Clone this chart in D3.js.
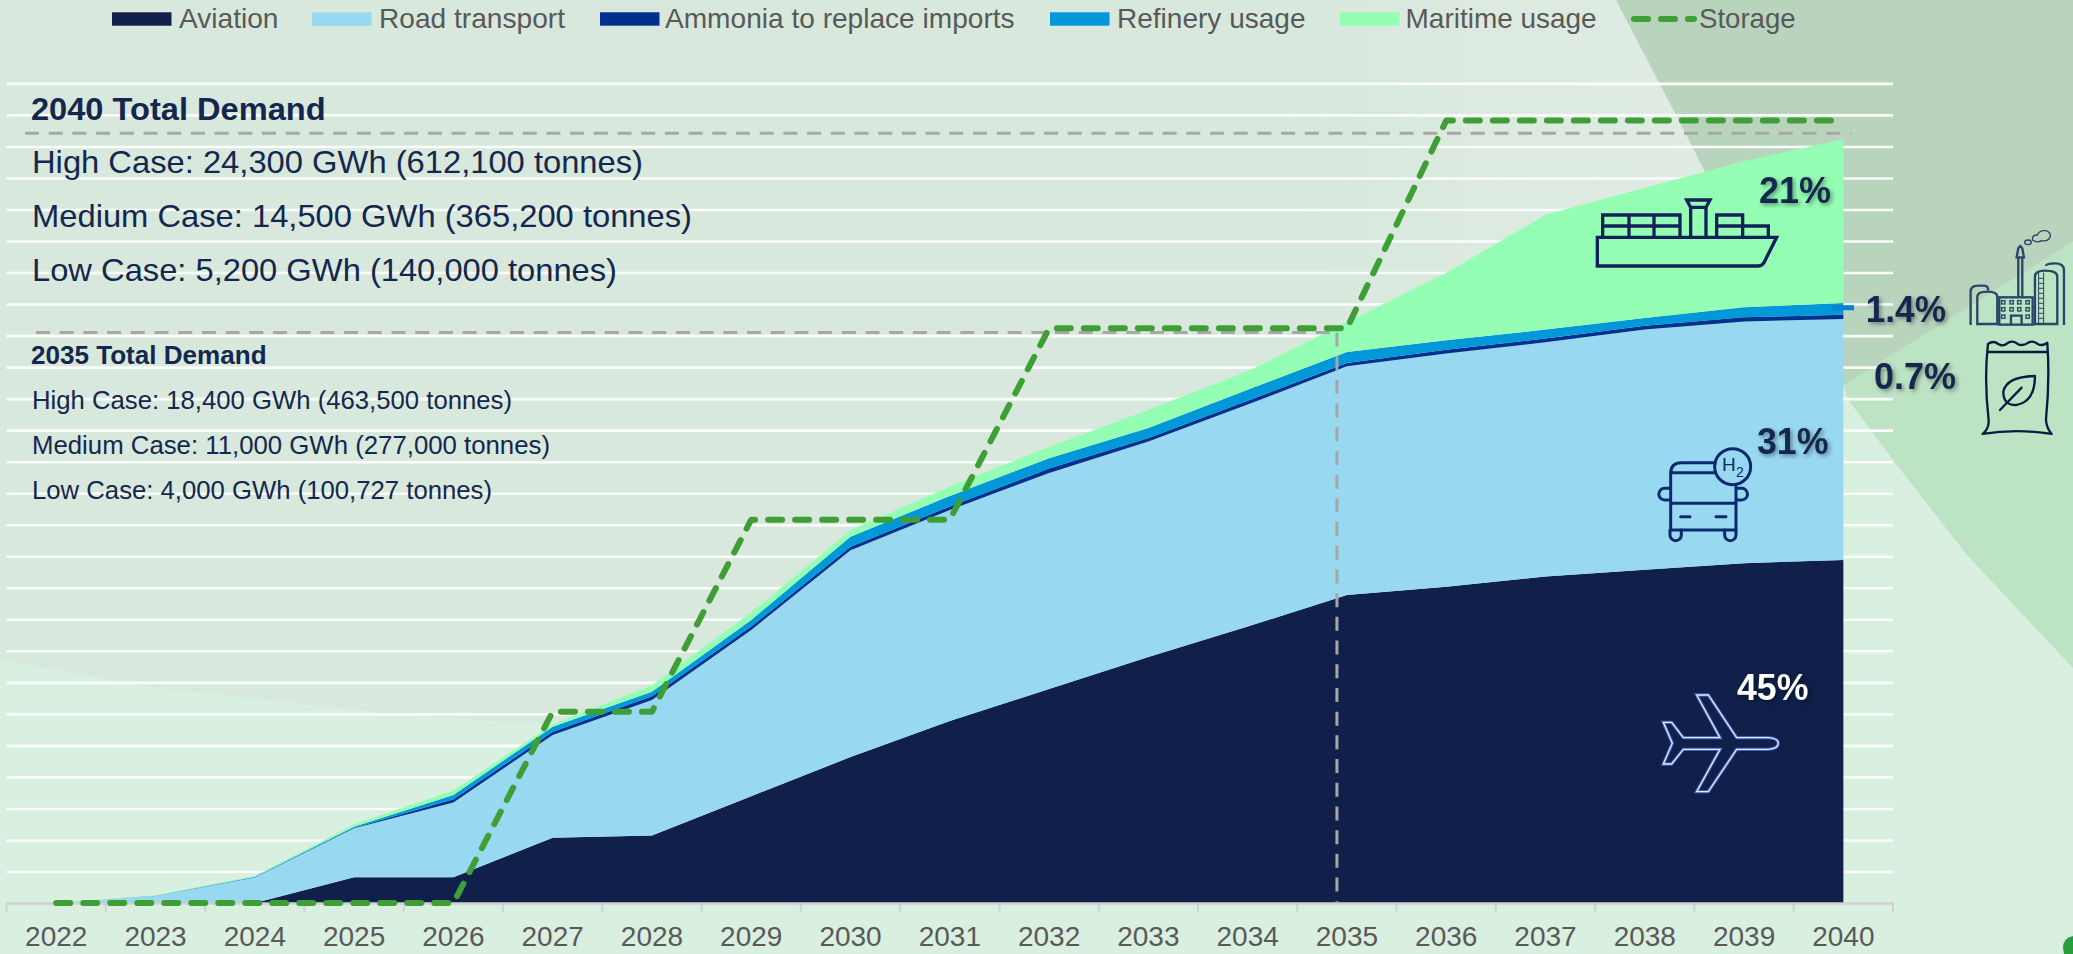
<!DOCTYPE html>
<html>
<head>
<meta charset="utf-8">
<script src="https://cdn.jsdelivr.net/npm/d3@7"></script>
<style>
html,body{margin:0;padding:0;background:#d9efdf;overflow:hidden}
svg{display:block}
text{font-family:"Liberation Sans",Arial,sans-serif}
</style>
</head>
<body>
<svg id="chart" width="2073" height="954"></svg>
<script>
const years = [2022,2023,2024,2025,2026,2027,2028,2029,2030,2031,2032,2033,2034,2035,2036,2037,2038,2039,2040];
// Thousand GWh per year
const aviation = [0,0,0,0.82,0.82,2.07,2.14,3.39,4.63,5.77,6.79,7.80,8.77,9.77,10.03,10.36,10.57,10.78,10.88];
const roadTransport = [0,0.22,0.81,1.55,2.37,3.26,4.30,5.27,6.56,6.70,6.85,6.84,7.04,7.26,7.40,7.43,7.62,7.67,7.65];
const ammonia = [0,0.005,0.01,0.02,0.10,0.10,0.12,0.11,0.11,0.11,0.14,0.11,0.12,0.10,0.12,0.12,0.12,0.13,0.13];
const refinery = [0,0.005,0.01,0.03,0.14,0.16,0.14,0.21,0.32,0.33,0.33,0.32,0.35,0.35,0.30,0.28,0.25,0.32,0.37];
const maritime = [0,0.01,0.03,0.08,0.14,0.08,0.21,0.24,0.21,0.30,0.36,0.58,0.59,0.95,2.14,3.64,4.13,4.63,5.20];
const storage = [0,0,0,0,0,6.07,6.07,12.16,12.16,12.16,18.23,18.23,18.23,18.23,24.82,24.82,24.82,24.82,24.82];
const gridValues = d3.range(1,27);
const refLevel2040 = 24.42, refLevel2035 = 18.10;

const seriesNames = ["Aviation","Road transport","Ammonia to replace imports","Refinery usage","Maritime usage"];
const seriesColors = ["#10204b","#98d8f0","#00308e","#0098d8","#94ffb4"];
const seriesValues = [aviation,roadTransport,ammonia,refinery,maritime];
const storageColor = "#3f9e36";
const navy = "#14274e", grey = "#595959";

const svg = d3.select("#chart");
const x = d3.scaleBand().domain(years).range([6.6,1893]);
const cx = d => x(d)+x.bandwidth()/2;
const y = d3.scaleLinear().domain([0,26]).range([903,83.4]);

/* ---------- background ---------- */
const defs = svg.append("defs");
const grad = defs.append("linearGradient").attr("id","bgGrad").attr("x1",0).attr("x2",1).attr("y1",0).attr("y2",0);
grad.append("stop").attr("offset","0.62").attr("stop-color","#d8e8dc");
grad.append("stop").attr("offset","0.82").attr("stop-color","#dfebe3");
const bg = svg.append("g");
bg.append("rect").attr("width",2073).attr("height",954).attr("fill","url(#bgGrad)");
const poly = (pts,fill) => bg.append("path").attr("d",d3.line()(pts)+"Z").attr("fill",fill);
poly([[0,660],[153,687],[383,713],[520,723],[900,730],[1847,398],[1893,460],[1967,555],[2073,668],[2073,954],[0,954]],"#d9efdf");
poly([[1616,0],[2073,0],[2073,242],[1844,385],[1600,300],[1705,172],[1689,140]],"#b9d4bd");
poly([[1844,385],[2073,242],[2073,668],[1967,555],[1893,460],[1847,398]],"#bce3c4");
bg.append("path").attr("d","M2073,936 Q2063,938 2063,948 L2064,954 H2073 Z").attr("fill","#2a9d3a");

/* ---------- grid ---------- */
const gridAxis = d3.axisLeft(y).tickValues(gridValues).tickSize(-(1893-6.6)).tickFormat("");
const gridG = svg.append("g").attr("transform","translate(6.6,0)").call(gridAxis);
gridG.select(".domain").remove();
gridG.selectAll("line").attr("stroke","#fbfdfb").attr("stroke-width",2.6);

/* ---------- stacked areas ---------- */
const table = years.map((yr,i)=>{
  const o={year:yr};
  seriesNames.forEach((n,k)=>o[n]=seriesValues[k][i]);
  return o;
});
const stacked = d3.stack().keys(seriesNames)(table);
const area = d3.area().x(d=>cx(d.data.year)).y0(d=>y(d[0])).y1(d=>y(d[1]));
svg.append("g").selectAll("path").data(stacked).join("path")
  .attr("d",area).attr("fill",(d,i)=>seriesColors[i]);

/* ---------- axis ---------- */
const axisG = svg.append("g").attr("transform","translate(0,903)");
const xAxis = d3.axisBottom(x).tickSize(0).tickPadding(23);
axisG.call(xAxis);
axisG.select(".domain").attr("stroke","#d2d0d2").attr("stroke-width",2.5);
axisG.selectAll("text").attr("font-size",28).attr("fill",grey)
  .style("font-family",'"Liberation Sans",Arial,sans-serif');
const edges = years.map(d=>x(d)).concat([x(2040)+x.bandwidth()]);
axisG.selectAll("line.edge").data(edges).join("line").attr("class","edge")
  .attr("x1",d=>d).attr("x2",d=>d).attr("y1",0).attr("y2",9)
  .attr("stroke","#d2d0d2").attr("stroke-width",2);

/* ---------- reference lines ---------- */
const refG = svg.append("g").attr("fill","none").attr("stroke","#a9a6a6").attr("stroke-width",3).attr("stroke-dasharray","14 9.7");
refG.append("line").attr("x1",25).attr("x2",1851).attr("y1",y(refLevel2040)).attr("y2",y(refLevel2040));
refG.append("line").attr("x1",36).attr("x2",cx(2035)-10).attr("y1",y(refLevel2035)).attr("y2",y(refLevel2035));
refG.append("line").attr("x1",cx(2035)-10).attr("x2",cx(2035)-10).attr("y1",y(refLevel2035)).attr("y2",903);

/* ---------- storage ---------- */
const storageLine = d3.line().x((d,i)=>cx(years[i])).y(d=>y(d));
svg.append("path").attr("d",storageLine(storage)).attr("fill","none")
  .attr("stroke",storageColor).attr("stroke-width",6).attr("stroke-linecap","round")
  .attr("stroke-linejoin","round").attr("stroke-dasharray","14 13");

/* ---------- legend ---------- */
const legendSwatchX = [112,312,600,1050,1340];
const legendTextX = [179,379,665,1117,1405.6];
const legendTextW = [99.5,186,349.6,188.5,191];
const legG = svg.append("g");
seriesNames.forEach((n,i)=>{
  legG.append("rect").attr("x",legendSwatchX[i]).attr("y",12.3).attr("width",59.5).attr("height",13.4).attr("fill",seriesColors[i]);
  legG.append("text").attr("x",legendTextX[i]).attr("y",28.3).attr("font-size",28).attr("fill",grey)
    .attr("textLength",legendTextW[i]).attr("lengthAdjust","spacingAndGlyphs").text(n);
});
legG.append("line").attr("x1",1634).attr("x2",1694).attr("y1",19).attr("y2",19)
  .attr("stroke",storageColor).attr("stroke-width",6).attr("stroke-linecap","round").attr("stroke-dasharray","14 13");
legG.append("text").attr("x",1699).attr("y",28.3).attr("font-size",28).attr("fill",grey)
  .attr("textLength",96.6).attr("lengthAdjust","spacingAndGlyphs").text("Storage");

/* ---------- notes ---------- */
const notes = [
 ["2040 Total Demand",31,120,32,"bold",294.6],
 ["High Case: 24,300 GWh (612,100 tonnes)",32,173,32,"normal",611],
 ["Medium Case: 14,500 GWh (365,200 tonnes)",32,226.7,32,"normal",660],
 ["Low Case: 5,200 GWh (140,000 tonnes)",32,281,32,"normal",585],
 ["2035 Total Demand",31,364,26.5,"bold",235.6],
 ["High Case: 18,400 GWh (463,500 tonnes)",32,409,26.5,"normal",480],
 ["Medium Case: 11,000 GWh (277,000 tonnes)",32,454,26.5,"normal",518],
 ["Low Case: 4,000 GWh (100,727 tonnes)",32,499,26.5,"normal",460]
];
svg.append("g").selectAll("text").data(notes).join("text")
  .attr("x",d=>d[1]).attr("y",d=>d[2]).attr("font-size",d=>d[3]).attr("font-weight",d=>d[4])
  .attr("textLength",d=>d[5]).attr("lengthAdjust","spacingAndGlyphs")
  .attr("fill",navy).text(d=>d[0]);

/* ---------- icons ---------- */
const ship = svg.append("g").attr("transform","translate(1580,120) scale(0.3333)")
  .attr("fill","none").attr("stroke","#14205a").attr("stroke-width",10);
ship.append("path").attr("d","M52,352 H590 L552,428 Q546,438 535,438 H52 Z");
ship.append("path").attr("d","M68,352 V285 H300 V352 M147,285 V352 M222,285 V352 M68,318 H300");
ship.append("path").attr("d","M332,352 V262 M378,352 V262 M320,240 H390 L378,262 H332 Z");
ship.append("path").attr("d","M410,352 V285 H488 V352 M410,318 H565 V352");

const bus = svg.append("g").attr("transform","translate(1620,420) scale(0.3333)")
  .attr("fill","none").attr("stroke","#0a2a6e").attr("stroke-width",9).attr("stroke-linecap","round");
bus.append("path").attr("d","M285,128 H185 Q152,128 152,160 V330 H348 V200 M152,158 H285 M152,250 H348 M182,290 H210 M288,290 H318");
bus.append("path").attr("d","M150,205 H134 A17,17 0 0 0 134,240 H150 M350,205 H365 A17,17 0 0 1 365,240 H350");
bus.append("path").attr("d","M150,330 V345 A17,17 0 0 0 184,345 V330 M314,330 V345 A17,17 0 0 0 348,345 V330");
bus.append("circle").attr("cx",338).attr("cy",140).attr("r",54);
svg.append("text").attr("x",1722).attr("y",470.5).attr("font-size",19).attr("fill","#0a2a6e").text("H");
svg.append("text").attr("x",1736).attr("y",477).attr("font-size",14).attr("fill","#0a2a6e").text("2");

const planeD = "M170,15 H205 L290,143 H385 Q415,145 415,160 Q415,176 385,178 H290 L205,305 H170 L240,178 H130 L95,222 H70 L97,160 L70,97 H95 L130,143 H240 Z";
const plane = svg.append("g").attr("transform","translate(1640,690) scale(0.3333)").attr("fill","none");
plane.append("path").attr("d",planeD).attr("stroke","#3d5fb4").attr("stroke-width",10);
plane.append("path").attr("d",planeD).attr("stroke","#dfe9ff").attr("stroke-width",4);

const fac = svg.append("g").attr("transform","translate(1580,120) scale(0.3333)")
  .attr("fill","none").attr("stroke","#2b4468").attr("stroke-width",7);
fac.append("path").attr("d","M1172,615 V515 Q1172,497 1195,497 H1212 Q1225,497 1225,512");
fac.append("path").attr("d","M1192,612 V530 Q1192,515 1222,515 Q1252,515 1252,530 V612 Z");
fac.append("rect").attr("x",1258).attr("y",532).attr("width",100).attr("height",82);
[1270,1295,1318,1343].forEach(wx=>[547,568,590].forEach(wy=>{
  if(!(wy===590 && (wx===1295||wx===1318)))
    fac.append("rect").attr("x",wx-5).attr("y",wy-5).attr("width",10).attr("height",10).attr("stroke-width",4);
}));
fac.append("path").attr("d","M1293,614 V587 H1325 V614");
fac.append("path").attr("d","M1315,530 V412 M1327,530 V412 M1310,412 H1332 L1327,385 L1321,378 L1315,385 Z");
fac.append("ellipse").attr("cx",1344).attr("cy",367).attr("rx",10).attr("ry",7).attr("stroke-width",4);
fac.append("path").attr("stroke-width",4).attr("d","M1358,360 Q1355,345 1372,345 Q1378,330 1398,332 Q1415,338 1410,352 Q1405,365 1385,362 Q1370,370 1358,360 Z");
fac.append("path").attr("d","M1365,612 V470 Q1365,452 1395,452 Q1432,452 1432,470 V612 Z");
fac.append("path").attr("stroke-width",3).attr("d","M1376,458 V612 M1391,458 V612 M1376,475 H1391 M1376,490 H1391 M1376,505 H1391 M1376,520 H1391 M1376,535 H1391 M1376,550 H1391 M1376,565 H1391 M1376,580 H1391 M1376,595 H1391");
fac.append("path").attr("d","M1398,438 Q1398,430 1425,430 Q1452,430 1452,450 V615");

const bag = svg.append("g").attr("transform","translate(1580,120) scale(0.3333)")
  .attr("fill","none").attr("stroke","#0b1a3e").attr("stroke-width",7).attr("stroke-linejoin","round").attr("stroke-linecap","round");
bag.append("path").attr("d","M1224,672 Q1240,660 1255,672 Q1270,682 1285,668 Q1300,660 1313,672 Q1328,680 1345,668 Q1360,660 1373,672 Q1388,680 1402,668 Q1410,780 1398,900 Q1400,925 1415,942 Q1310,925 1208,942 Q1228,925 1226,900 Q1212,780 1224,672 Z");
bag.append("path").attr("d","M1222,696 H1402");
bag.append("path").attr("d","M1365,768 Q1280,770 1270,815 Q1270,857 1310,855 Q1365,845 1365,768 Z");
bag.append("path").attr("d","M1260,870 L1325,803");

/* blue marker beside 1.4% */
svg.append("rect").attr("x",1832).attr("y",305.2).attr("width",22).attr("height",5).attr("fill","#0a80d2");

/* ---------- percent labels ---------- */
const pctLabels = [
 ["21%",1759,203,navy,72],
 ["1.4%",1865.7,321.7,navy,80.3],
 ["0.7%",1874,389,navy,82],
 ["31%",1757,453.7,navy,71.5],
 ["45%",1737,700,"#ffffff",71.5]
];
svg.append("g").selectAll("text").data(pctLabels).join("text")
  .attr("x",d=>d[1]).attr("y",d=>d[2]).attr("font-size",37.5).attr("font-weight","bold")
  .attr("textLength",d=>d[4]).attr("lengthAdjust","spacingAndGlyphs")
  .attr("fill",d=>d[3]).style("filter","drop-shadow(2px 2px 2px rgba(0,0,0,0.4))").text(d=>d[0]);
</script>
</body>
</html>
